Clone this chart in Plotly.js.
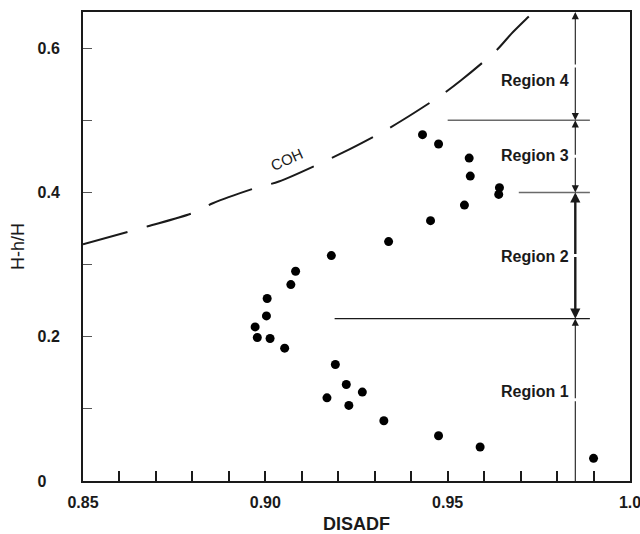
<!DOCTYPE html>
<html>
<head>
<meta charset="utf-8">
<script src="https://cdn.plot.ly/plotly-3.0.1.min.js"></script>
<style>
  html, body { margin: 0; padding: 0; background: #fff; }
  #chart { width: 640px; height: 534px; }
</style>
</head>
<body>
<div id="chart"></div>
<script>
// Measured points: DISADF against H-h/H
const disadf = [0.9431, 0.9475, 0.9559, 0.9562, 0.9642, 0.9640, 0.9546, 0.9453, 0.9338, 0.9181,
                0.9083, 0.9070, 0.9005, 0.9003, 0.8972, 0.8978, 0.9013, 0.9053, 0.9192, 0.9222,
                0.9266, 0.9169, 0.9229, 0.9325, 0.9475, 0.9589, 0.9900];
const hRatio = [0.480, 0.467, 0.4475, 0.4226, 0.4065, 0.3972, 0.3824, 0.3608, 0.3318, 0.3124,
                0.2907, 0.2722, 0.2529, 0.2288, 0.2136, 0.1989, 0.1975, 0.1841, 0.1615, 0.1338,
                0.1232, 0.1153, 0.1048, 0.0835, 0.0627, 0.0471, 0.0314];

// COH limit curve
const cohX = [0.8500, 0.8678, 0.8804, 0.8856, 0.8979, 0.9037, 0.9212, 0.9322, 0.9379, 0.9486,
              0.9536, 0.9634, 0.9675, 0.9727, 0.9745];
const cohY = [0.328, 0.353, 0.372, 0.385, 0.407, 0.415, 0.455, 0.484, 0.501, 0.536,
              0.555, 0.597, 0.620, 0.646, 0.655];

// Region boundaries along H-h/H and where each divider line begins
const regionBounds = [0, 0.225, 0.4, 0.5, 0.65];
const regionNames = ['Region 1', 'Region 2', 'Region 3', 'Region 4'];
const dividerStarts = [0.919, 0.9695, 0.950];
const dividerX = 0.985;

// Axis tick labels
const xTickVals = [0.85, 0.90, 0.95, 1.0];
const xTickText = ['0.85', '0.90', '0.95', '1.0'];
const yTickVals = [0, 0.2, 0.4, 0.6];
const yTickText = ['0\u00a0\u00a0\u00a0', '0.2', '0.4', '0.6'];

const FONT = 'Liberation Sans, Arial, Helvetica, sans-serif';
const INK = '#1a1a1a';

const traces = [
  {
    x: cohX, y: cohY, type: 'scatter', mode: 'lines',
    line: { color: INK, width: 2, dash: '46px,20px', shape: 'spline', smoothing: 0.8 },
    hoverinfo: 'skip'
  },
  {
    x: disadf, y: hRatio, type: 'scatter', mode: 'markers',
    marker: { color: '#000', size: 9 },
    cliponaxis: false
  }
];

const shapes = [];
const annotations = [];

// Horizontal dividers between regions
dividerStarts.forEach((x0, i) => {
  const yb = regionBounds[i + 1];
  const light = i > 0;
  shapes.push({
    type: 'line', xref: 'x', yref: 'y',
    x0: x0, x1: 0.989, y0: yb, y1: yb,
    line: { color: light ? '#6a6a6a' : INK, width: light ? 1.5 : 1.3 }
  });
});

// Double-headed arrows spanning each region on the vertical divider
regionNames.forEach((name, i) => {
  const lo = regionBounds[i];
  const hi = regionBounds[i + 1];
  const mid = (lo + hi) / 2;
  const heavy = i === 1;
  const common = {
    x: dividerX, ax: dividerX, xref: 'x', yref: 'y', axref: 'x', ayref: 'y',
    text: '', showarrow: true, arrowcolor: INK,
    arrowwidth: heavy ? 2.4 : 1.1,
    arrowhead: 2, arrowsize: heavy ? 0.85 : 1.3, standoff: 0, startstandoff: 0
  };
  annotations.push(Object.assign({}, common, { y: hi, ay: mid }));
  if (i > 0) annotations.push(Object.assign({}, common, { y: lo, ay: mid }));
  else annotations.push(Object.assign({}, common, { y: lo, ay: mid, arrowhead: 0 }));
});

// Region names
const labelY = [0.124, 0.311, 0.451, 0.555];
regionNames.forEach((name, i) => {
  annotations.push({
    x: 0.9642, y: labelY[i], xref: 'x', yref: 'y',
    xanchor: 'left', yanchor: 'middle', showarrow: false,
    text: name, font: { family: FONT, size: 16, color: INK, weight: 'bold' }
  });
});

// Curve label
annotations.push({
  x: 0.9058, y: 0.446, xref: 'x', yref: 'y',
  text: 'COH', showarrow: false, textangle: -24,
  font: { family: FONT, size: 15, color: INK }
});

const layout = {
  width: 640, height: 534,
  margin: { l: 83, r: 10, t: 12, b: 53 },
  paper_bgcolor: '#fff', plot_bgcolor: '#fff',
  showlegend: false,
  font: { family: FONT, color: INK },
  xaxis: {
    range: [0.85, 1.0], autorange: false,
    showgrid: false, zeroline: false,
    showline: true, linecolor: INK, linewidth: 2, mirror: true,
    tickmode: 'array', tickvals: xTickVals, ticktext: xTickText,
    ticks: 'inside', ticklen: 10, tickwidth: 2, tickcolor: INK,
    minor: { tickmode: 'linear', tick0: 0.85, dtick: 0.01, ticks: 'inside', ticklen: 10, tickwidth: 2, tickcolor: INK, showgrid: false },
    tickfont: { family: FONT, size: 16, color: INK, weight: 'bold' },
    ticklabelstandoff: 6,
    ticklabeloverflow: 'allow',
    title: { text: 'DISADF', font: { family: FONT, size: 18, color: INK, weight: 'bold' }, standoff: 8 }
  },
  yaxis: {
    range: [0, 0.65], autorange: false,
    showgrid: false, zeroline: false,
    showline: true, linecolor: INK, linewidth: 2, mirror: true,
    tickmode: 'array', tickvals: yTickVals, ticktext: yTickText,
    ticks: 'inside', ticklen: 9, tickwidth: 1, tickcolor: '#555',
    minor: { tickmode: 'linear', tick0: 0, dtick: 0.1, ticks: 'inside', ticklen: 9, tickwidth: 1, tickcolor: '#555', showgrid: false },
    tickfont: { family: FONT, size: 16, color: INK, weight: 'bold' },
    ticklabelstandoff: 18,
    ticklabeloverflow: 'allow',
    title: { text: 'H-h/H', font: { family: FONT, size: 18, color: INK }, standoff: 8 }
  },
  shapes: shapes,
  annotations: annotations
};

Plotly.newPlot('chart', traces, layout, { staticPlot: true, displayModeBar: false });
</script>
</body>
</html>
